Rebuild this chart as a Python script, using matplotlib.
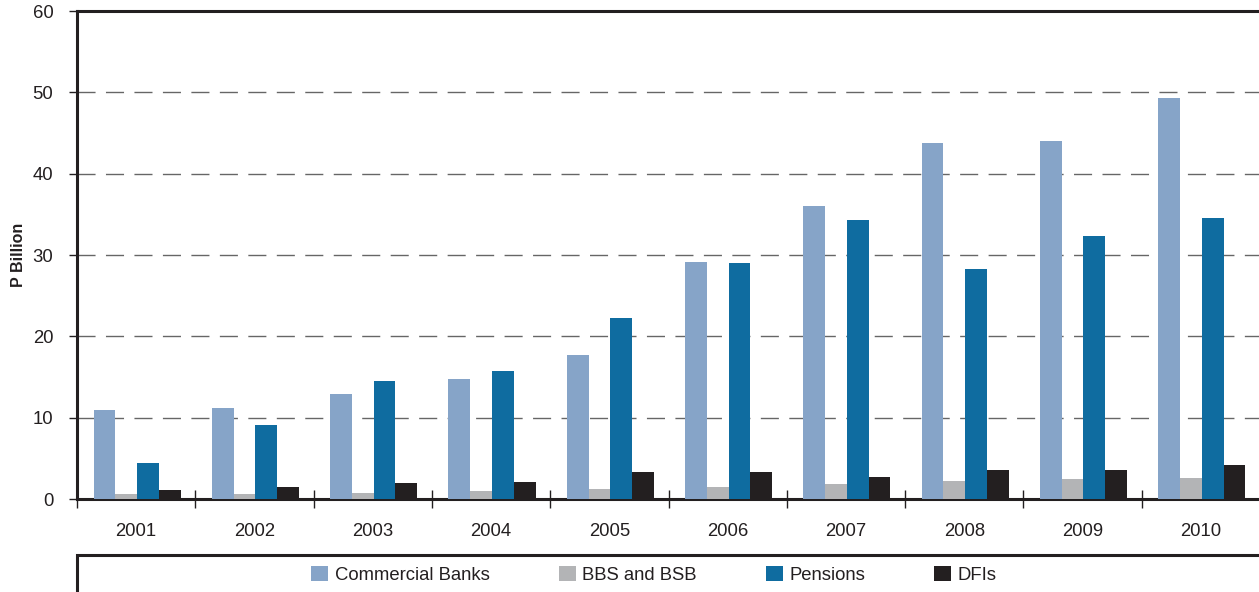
import matplotlib
matplotlib.use("Agg")
import matplotlib.pyplot as plt
from matplotlib.patches import Rectangle
import numpy as np

plt.rcParams["font.family"] = ["Liberation Sans", "DejaVu Sans"]

years = ["2001", "2002", "2003", "2004", "2005", "2006", "2007", "2008", "2009", "2010"]
commercial_banks = [10.9, 11.2, 12.9, 14.8, 17.7, 29.1, 36.0, 43.8, 44.0, 49.3]
bbs_and_bsb = [0.6, 0.6, 0.75, 1.0, 1.2, 1.5, 1.8, 2.2, 2.45, 2.6]
pensions = [4.4, 9.1, 14.5, 15.7, 22.3, 29.0, 34.3, 28.3, 32.3, 34.5]
dfis = [1.1, 1.5, 2.0, 2.1, 3.3, 3.3, 2.7, 3.6, 3.6, 4.2]

series = [
    ("Commercial Banks", commercial_banks, "#86A4C8"),
    ("BBS and BSB", bbs_and_bsb, "#B3B4B6"),
    ("Pensions", pensions, "#0F6CA0"),
    ("DFIs", dfis, "#231F20"),
]

W, H = 1259, 592
fig = plt.figure(figsize=(W / 100, H / 100), dpi=100)
ax = fig.add_axes([77 / W, (H - 499) / H, (1260 - 77) / W, (499 - 11) / H])

x = np.arange(len(years))
bw = 0.184
offsets = (np.arange(4) - 1.5) * bw + 0.008
for (name, vals, col), off in zip(series, offsets):
    ax.bar(x + off, vals, width=bw, color=col, label=name, zorder=3, linewidth=0)

ax.set_xlim(-0.5, len(years) - 0.5)
ax.set_ylim(0, 60)
ax.set_yticks(np.arange(0, 61, 10))
ax.tick_params(axis="y", direction="out", length=6, width=1, pad=11,
               labelsize=13.3, colors="#231F20")

# group separators as major ticks, year labels as minor ticks
ax.set_xticks(np.arange(-0.5, len(years) + 0.5, 1.0))
ax.set_xticklabels([])
ax.set_xticks(x, minor=True)
ax.set_xticklabels(years, minor=True)
ax.tick_params(axis="x", which="major", direction="inout", length=13, width=1,
               color="#231F20")
ax.tick_params(axis="x", which="minor", length=0, pad=17, labelsize=13.3,
               labelcolor="#231F20")

ax.yaxis.grid(True, color="#666666", linewidth=1.0, dashes=(13, 7.5), zorder=1)
ax.set_axisbelow(True)

for side in ("left", "bottom", "top"):
    ax.spines[side].set_linewidth(2.2)
    ax.spines[side].set_color("#231F20")
ax.spines["right"].set_visible(False)

ax.set_ylabel("P Billion", fontsize=11.5, fontweight="bold", labelpad=5,
              color="#231F20")

# legend box along the bottom
fig.add_artist(Rectangle((77 / W, -0.1), 1.0, (H - 555) / H + 0.1,
                         transform=fig.transFigure, fill=False,
                         edgecolor="#231F20", linewidth=2.2, clip_on=False))
fig.legend(loc="center", bbox_to_anchor=(654 / W, 1 - 575 / H), ncol=4,
           frameon=False, fontsize=13.3, handlelength=0.92, handleheight=0.92,
           handletextpad=0.35, columnspacing=3.75, labelcolor="#231F20")

fig.savefig("out.png", dpi=100)
